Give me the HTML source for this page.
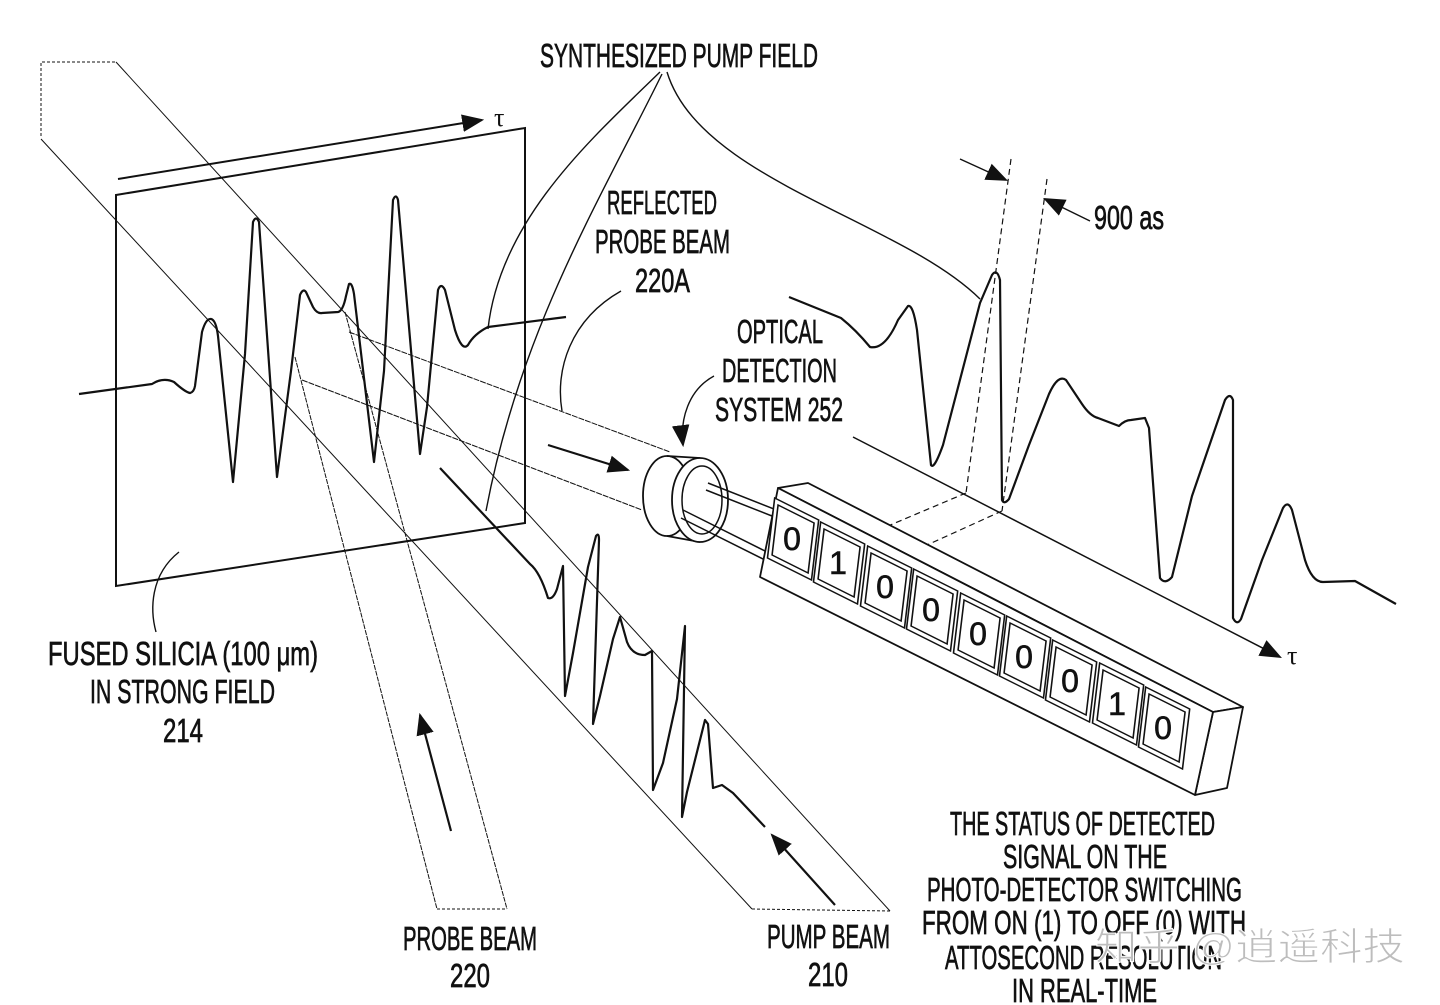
<!DOCTYPE html>
<html><head><meta charset="utf-8">
<style>
html,body{margin:0;padding:0;background:#fff;}
svg{display:block;}
.t{font-family:"Liberation Sans Narrow","Liberation Sans",sans-serif;font-size:33px;fill:#111;stroke:#111;stroke-width:0.7px;}
.d{font-family:"Liberation Sans Narrow","Liberation Sans",sans-serif;font-size:32px;fill:#111;stroke:#111;stroke-width:0.6px;}
</style></head><body>
<svg width="1440" height="1005" viewBox="0 0 1440 1005" xmlns="http://www.w3.org/2000/svg">
<defs>
<marker id="ab" viewBox="0 0 10 10" refX="9" refY="5" markerWidth="22" markerHeight="22" markerUnits="userSpaceOnUse" orient="auto">
<path d="M0,1 L10,5 L0,9 z" fill="#111"/></marker>
</defs>
<g fill="none" stroke="#111">
<path d="M41,136 L41,62 L116,62" stroke-dasharray="3,2" stroke-width="1"/>
<path d="M116,195 L525,128 L525,523 L116,586 Z" stroke-width="2"/>
<path d="M118,179 L482,120" stroke-width="2" marker-end="url(#ab)"/>
<g stroke-width="1">
<line x1="41" y1="139" x2="752" y2="909"/>
<line x1="116" y1="62" x2="890" y2="911"/>
<line x1="295" y1="357" x2="437" y2="909" stroke-dasharray="5,1"/>
<line x1="345" y1="312" x2="507" y2="909" stroke-dasharray="5,1"/>
<path d="M437,909 L507,909" stroke-dasharray="3,2"/>
<path d="M752,909 L890,911" stroke-dasharray="3,2"/>
<line x1="349" y1="332" x2="670" y2="452" stroke-dasharray="6,1"/>
<line x1="302" y1="380" x2="642" y2="510" stroke-dasharray="6,1"/>
</g>
<path stroke-width="2.2" stroke-linejoin="round" d="M79,394 L152,384 Q163,377 174,382 Q185,392 190,393 Q194,392 195,386 L202,332 Q206,318 211,319 Q216,320 218,336 L233,482 L245,354 L253,222 Q256,215 259,222 L277,477 L291,371 L300,295 Q303,288 306,292 L313,307 Q317,314 322,313 L338,312 Q343,311 346,296 L349,284 Q352,282 354,294 L374,462 L384,371 L393,200 Q396,193 398,200 L420,454 L427,407 L438,290 Q441,282 445,290 L455,330 Q462,352 468,345 Q474,334 488,327 L566,317"/>
<path stroke-width="1.4" d="M660,72 C590,140 500,220 488,329"/>
<path stroke-width="1.4" d="M662,74 C600,200 520,330 486,511"/>
<path stroke-width="1.4" d="M667,72 C700,180 900,220 980,299"/>
<path stroke-width="1.4" d="M621,291 C570,320 555,370 562,411"/>
<path stroke-width="1.4" d="M179,552 C150,575 150,610 156,632"/>
<path stroke-width="1.4" d="M714,376 C688,390 680,420 683,445" marker-end="url(#ab)"/>
<line x1="548" y1="445" x2="628" y2="470" stroke-width="2.2" marker-end="url(#ab)"/>
<line x1="451" y1="831" x2="420" y2="715" stroke-width="2.2" marker-end="url(#ab)"/>
<line x1="835" y1="905" x2="772" y2="835" stroke-width="2.2" marker-end="url(#ab)"/>
<path stroke-width="2.2" stroke-linejoin="round" d="M440,468 L530,564 Q540,572 548,598 Q553,600 557,589 L563,566 L565,696 L573,653 L588,567 L596,536 Q599,532 599,540 L593,724 L600,696 L613,639 L620,617 L627,642 Q632,655 645,655 L652,651 L653,790 L663,763 L677,699 L685,626 L682,817 L687,792 L705,720 L708,724 L713,788 L722,785 L733,793 L765,827"/>
<ellipse cx="667" cy="496" rx="24" ry="40" stroke-width="1.8" fill="#fff"/>
<path d="M667,456 L700,458 M667,536 L700,542" stroke-width="1.8"/>
<ellipse cx="700" cy="500" rx="28" ry="42" stroke-width="1.8" fill="#fff"/>
<ellipse cx="702" cy="500" rx="20" ry="34" stroke-width="1.5"/>
<path d="M708,483 L779,511 M706,490 L777,518" stroke-width="1.5"/>
<path d="M683,510 L767,552 M681,518 L765,560" stroke-width="1.5"/>
<path stroke-width="2.2" stroke-linejoin="round" d="M789,297 L841,318 Q856,330 870,347 Q885,350 898,320 L908,306 Q913,304 917,330 L931,465 Q934,470 943,445 L980,303 L992,275 Q997,268 1000,280 L1002,500 Q1004,505 1009,499 L1029,445 L1049,394 Q1058,374 1066,380 L1082,404 Q1090,416 1098,418 L1119,426 Q1125,420 1131,420 L1145,418 L1149,428 L1160,578 Q1165,585 1172,577 L1192,496 L1225,400 Q1230,392 1233,400 L1233,618 Q1237,626 1241,619 L1262,560 L1283,508 Q1288,500 1292,510 L1305,560 Q1312,582 1323,582 L1355,581 L1396,604"/>
<line x1="853" y1="437" x2="1280" y2="657" stroke-width="1.5" marker-end="url(#ab)"/>
<g stroke-width="1.2" stroke-dasharray="6,4">
<line x1="1011" y1="159" x2="966" y2="493"/>
<line x1="1047" y1="179" x2="1002" y2="511"/>
<line x1="966" y1="493" x2="888" y2="526"/>
<line x1="1002" y1="511" x2="927" y2="545"/>
</g>
<line x1="960" y1="159" x2="1006" y2="180" stroke-width="1.4" marker-end="url(#ab)"/>
<line x1="1090" y1="221" x2="1045" y2="199" stroke-width="1.4" marker-end="url(#ab)"/>
<g stroke-width="1.8" fill="#fff" stroke-linejoin="round">
<polygon points="778,488 808,483 1243,707 1213,712"/>
<polygon points="1213,712 1243,707 1227,788 1195,795"/>
<polygon points="778,488 1213,712 1195,795 760,577"/>
</g>
</g>
<g stroke="#111" fill="#fff" stroke-width="1.5">
<g transform="translate(792,548)"><g transform="matrix(1,0.5,-0.12,1,0,0)"><rect x="-22" y="-39" width="44" height="60"/><rect x="-18" y="-34" width="36" height="50"/></g><text x="0" y="2" text-anchor="middle" class="d">0</text></g>
<g transform="translate(838,572)"><g transform="matrix(1,0.5,-0.12,1,0,0)"><rect x="-22" y="-39" width="44" height="60"/><rect x="-18" y="-34" width="36" height="50"/></g><text x="0" y="2" text-anchor="middle" class="d">1</text></g>
<g transform="translate(885,596)"><g transform="matrix(1,0.5,-0.12,1,0,0)"><rect x="-22" y="-39" width="44" height="60"/><rect x="-18" y="-34" width="36" height="50"/></g><text x="0" y="2" text-anchor="middle" class="d">0</text></g>
<g transform="translate(931,619)"><g transform="matrix(1,0.5,-0.12,1,0,0)"><rect x="-22" y="-39" width="44" height="60"/><rect x="-18" y="-34" width="36" height="50"/></g><text x="0" y="2" text-anchor="middle" class="d">0</text></g>
<g transform="translate(978,643)"><g transform="matrix(1,0.5,-0.12,1,0,0)"><rect x="-22" y="-39" width="44" height="60"/><rect x="-18" y="-34" width="36" height="50"/></g><text x="0" y="2" text-anchor="middle" class="d">0</text></g>
<g transform="translate(1024,666)"><g transform="matrix(1,0.5,-0.12,1,0,0)"><rect x="-22" y="-39" width="44" height="60"/><rect x="-18" y="-34" width="36" height="50"/></g><text x="0" y="2" text-anchor="middle" class="d">0</text></g>
<g transform="translate(1070,690)"><g transform="matrix(1,0.5,-0.12,1,0,0)"><rect x="-22" y="-39" width="44" height="60"/><rect x="-18" y="-34" width="36" height="50"/></g><text x="0" y="2" text-anchor="middle" class="d">0</text></g>
<g transform="translate(1117,713)"><g transform="matrix(1,0.5,-0.12,1,0,0)"><rect x="-22" y="-39" width="44" height="60"/><rect x="-18" y="-34" width="36" height="50"/></g><text x="0" y="2" text-anchor="middle" class="d">1</text></g>
<g transform="translate(1163,737)"><g transform="matrix(1,0.5,-0.12,1,0,0)"><rect x="-22" y="-39" width="44" height="60"/><rect x="-18" y="-34" width="36" height="50"/></g><text x="0" y="2" text-anchor="middle" class="d">0</text></g>
</g>
<text x="494" y="126" font-family="Liberation Serif,serif" font-size="26" fill="#111">τ</text>
<text x="1287" y="664" font-family="Liberation Serif,serif" font-size="26" fill="#111">τ</text>
<g>
<text class="t" x="540" y="67" textLength="278" lengthAdjust="spacingAndGlyphs">SYNTHESIZED PUMP FIELD</text>
<text class="t" x="607" y="214" textLength="110" lengthAdjust="spacingAndGlyphs">REFLECTED</text>
<text class="t" x="595" y="253" textLength="135" lengthAdjust="spacingAndGlyphs">PROBE BEAM</text>
<text class="t" x="635" y="292" textLength="55" lengthAdjust="spacingAndGlyphs">220A</text>
<text class="t" x="737" y="343" textLength="86" lengthAdjust="spacingAndGlyphs">OPTICAL</text>
<text class="t" x="722" y="382" textLength="115" lengthAdjust="spacingAndGlyphs">DETECTION</text>
<text class="t" x="715" y="421" textLength="128" lengthAdjust="spacingAndGlyphs">SYSTEM 252</text>
<text class="t" x="1094" y="229" textLength="70" lengthAdjust="spacingAndGlyphs">900 as</text>
<text class="t" x="48" y="665" textLength="270" lengthAdjust="spacingAndGlyphs">FUSED SILICIA (100 μm)</text>
<text class="t" x="90" y="703" textLength="185" lengthAdjust="spacingAndGlyphs">IN STRONG FIELD</text>
<text class="t" x="163" y="742" textLength="40" lengthAdjust="spacingAndGlyphs">214</text>
<text class="t" x="403" y="950" textLength="134" lengthAdjust="spacingAndGlyphs">PROBE BEAM</text>
<text class="t" x="450" y="987" textLength="40" lengthAdjust="spacingAndGlyphs">220</text>
<text class="t" x="767" y="948" textLength="123" lengthAdjust="spacingAndGlyphs">PUMP BEAM</text>
<text class="t" x="808" y="986" textLength="40" lengthAdjust="spacingAndGlyphs">210</text>
<text class="t" x="950" y="835" textLength="265" lengthAdjust="spacingAndGlyphs">THE STATUS OF DETECTED</text>
<text class="t" x="1003" y="868" textLength="164" lengthAdjust="spacingAndGlyphs">SIGNAL ON THE</text>
<text class="t" x="927" y="901" textLength="315" lengthAdjust="spacingAndGlyphs">PHOTO-DETECTOR SWITCHING</text>
<text class="t" x="922" y="934" textLength="324" lengthAdjust="spacingAndGlyphs">FROM ON (1) TO OFF (0) WITH</text>
<text class="t" x="945" y="969" textLength="277" lengthAdjust="spacingAndGlyphs">ATTOSECOND RESOLUTION</text>
<text class="t" x="1012" y="1002" textLength="145" lengthAdjust="spacingAndGlyphs">IN REAL-TIME</text>
</g>
<text x="1095" y="960" font-family="'Liberation Sans','Noto Sans CJK SC',sans-serif" font-size="38" fill="#bdbdbd" stroke="#fff" stroke-width="1" textLength="310" lengthAdjust="spacingAndGlyphs">知乎 @逍遥科技</text>
</svg>
</body></html>
